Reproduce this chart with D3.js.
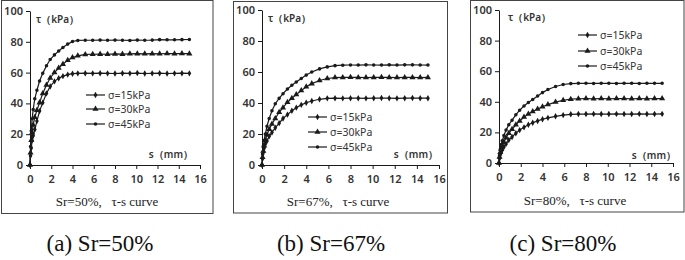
<!DOCTYPE html>
<html><head><meta charset="utf-8">
<script src="https://cdn.jsdelivr.net/npm/d3@7/dist/d3.min.js"></script>
<style>
body{margin:0;background:#fff;}
svg{display:block;}
</style></head>
<body>
<svg id="c" width="685" height="260"></svg>
<script>
// ---------- data ----------
const s = [0,0.05,0.12,0.2,0.3,0.45,0.65,0.9,1.2,1.55,1.9,2.3,2.7,3.1,3.55,4.0,4.5,5.2,5.9,6.6,7.3,8.0,8.7,9.4,10.1,10.8,11.5,12.2,12.9,13.6,14.3,15.0];
const seriesNames = ["σ=15kPa","σ=30kPa","σ=45kPa"];
const xTicks = [0,2,4,6,8,10,12,14,16];
const yTicks = [0,20,40,60,80,100];
const captions = ["Sr=50%,   τ-s curve","Sr=67%,   τ-s curve","Sr=80%,   τ-s curve"];
const subCaptions = ["(a) Sr=50%","(b) Sr=67%","(c) Sr=80%"];

const tauA15 = [0,6,11,16,19,23,28.5,35,40.5,46.5,51,54.3,56.3,57.7,58.7,59.3,59.5,59.6,59.5,59.6,59.5,59.4,59.6,59.5,59.7,59.4,59.5,59.6,59.4,59.5,59.6,59.5];
const tauA30 = [0,8,16,21,26,31,35.5,40.5,46.5,52,56.5,60,63,65.5,68,69.8,70.9,71.8,71.9,72.0,71.9,72.1,72.0,72.2,72.3,72.2,72.3,72.2,72.4,72.3,72.4,72.3];
const tauA45 = [0,12,22,30,36,43,48.5,54.5,59.5,64.5,68.5,71.5,74,76.3,78.5,80.2,80.9,81.0,81.0,81.1,81.0,81.1,81.0,80.9,81.1,81.0,81.1,81.4,81.3,81.3,81.4,81.5];

const tauB15 = [0,4,8,11,13.5,15.5,18.5,21,24,27,30,32.5,35,37,38.8,40.2,41.3,42.4,43.0,43.1,43.0,43.1,43.1,43.0,43.1,43.2,43.1,43.0,43.1,43.2,43.1,43.1];
const tauB30 = [0,5,9,12.5,16,19.5,23,26.5,30,34,37,40.5,43,45.5,48,50.5,52.5,54.5,55.8,56.4,56.5,56.6,56.5,56.4,56.5,56.6,56.5,56.4,56.5,56.5,56.4,56.5];
const tauB45 = [0,7,12,16,20,25,30,35,39.5,43,46,49,51.5,53.5,55.8,58,60,62,63.3,64.1,64.4,64.5,64.5,64.6,64.5,64.5,64.6,64.5,64.6,64.6,64.5,64.5];

const tauC15 = [0,3,5.5,7,8.5,10.5,12.5,15,17,19.5,21.5,23.3,25,26.3,27.5,28.6,29.5,30.5,31.3,31.8,32.0,32.0,32.1,32.0,32.0,32.1,32.0,32.0,32.1,32.0,32.0,32.1];
const tauC30 = [0,4,7,9,11,13.5,16.5,19.5,22,25,27.5,30,32,33.7,35.3,36.8,38.2,39.8,41.0,41.7,42.0,42.1,42.0,42.1,42.0,42.1,42.1,42.0,42.1,42.0,42.1,42.1];
const tauC45 = [0,5,9,12,14.5,18,21.5,25,28,31.5,34.5,37.3,39.5,41.5,43.8,46,48,50,51.3,51.9,52.1,52.1,52.0,52.1,52.1,52.0,52.1,52.1,52.0,52.1,52.1,52.1];

const panelSeries = [[tauA15,tauA30,tauA45],[tauB15,tauB30,tauB45],[tauC15,tauC30,tauC45]];

// ---------- layout ----------
const layout = [
  {fx:1.5, fy:0.5, fw:211.5, fh:213, x0:30, x1:200, y0:165, y1:11, lx:86, ly:[95,109,124], tx:36, ty:19, sx:193, sy:154, cx:107, cy:201, bx:100},
  {fx:233.5, fy:1.5, fw:214, fh:211.5, x0:262, x1:439, y0:165, y1:10, lx:308, ly:[117,132,147], tx:268, ty:18, sx:438, sy:154, cx:338, cy:201, bx:331},
  {fx:470.5, fy:0.5, fw:213.5, fh:211.5, x0:499, x1:673, y0:163, y1:10, lx:578, ly:[35,51,66], tx:508, ty:17, sx:676, sy:155, cx:575, cy:200, bx:563}
];

const svg = d3.select("#c");
const ink = "#1a1a1a";
const sans = "'Noto Sans', 'DejaVu Sans', sans-serif";
const serif = "'Liberation Serif', 'DejaVu Serif', serif";

const symbols = [
  d3.symbol().type(d3.symbolDiamond).size(12),
  d3.symbol().type(d3.symbolTriangle).size(16),
  d3.symbol().type(d3.symbolCircle).size(10)
];

layout.forEach((L, p) => {
  const g = svg.append("g");
  g.append("rect").attr("x", L.fx).attr("y", L.fy).attr("width", L.fw).attr("height", L.fh)
    .attr("fill", "none").attr("stroke", "#444").attr("stroke-width", 1);

  const x = d3.scaleLinear().domain([0,16]).range([L.x0, L.x1]);
  const y = d3.scaleLinear().domain([0,100]).range([L.y0, L.y1]);

  const xa = g.append("g").attr("transform", `translate(0,${L.y0})`)
    .call(d3.axisBottom(x).tickValues(xTicks).tickSize(4).tickSizeOuter(0).tickPadding(6));
  const ya = g.append("g").attr("transform", `translate(${L.x0},0)`)
    .call(d3.axisLeft(y).tickValues(yTicks).tickSize(4).tickSizeOuter(0).tickPadding(3));
  [xa, ya].forEach(a => {
    a.select(".domain").attr("stroke", ink).attr("stroke-width", 1);
    a.selectAll(".tick line").attr("stroke", ink);
    a.selectAll(".tick text").attr("fill", "#333").style("font-family", sans).style("font-size", "11px").style("font-weight", "600");
  });

  const line = d3.line().x((d,i) => x(s[i])).y(d => y(d));
  panelSeries[p].forEach((vals, k) => {
    g.append("path").datum(vals).attr("d", line).attr("fill", "none").attr("stroke", ink).attr("stroke-width", 1.2);
    g.selectAll(null).data(vals).enter().append("path")
      .attr("d", symbols[k]()).attr("fill", ink)
      .attr("transform", (d,i) => `translate(${x(s[i])},${y(d)})`);
  });

  // legend
  seriesNames.forEach((nm, k) => {
    const yy = L.ly[k];
    g.append("line").attr("x1", L.lx).attr("x2", L.lx + 19).attr("y1", yy).attr("y2", yy)
      .attr("stroke", ink).attr("stroke-width", 1.2);
    g.append("path").attr("d", symbols[k]()).attr("fill", ink)
      .attr("transform", `translate(${L.lx + 9.5},${yy})`);
    g.append("text").attr("x", L.lx + 22).attr("y", yy).attr("dy", "0.35em")
      .attr("fill", "#333").style("font-family", sans).style("font-size", "10.5px").text(nm);
  });

  g.append("text").attr("x", L.tx).attr("y", L.ty).attr("dy", "0.35em")
    .attr("fill", "#333").style("font-family", sans).style("font-size", "10px").style("font-weight", "600").text("τ（kPa）");
  g.append("text").attr("x", L.sx).attr("y", L.sy).attr("dy", "0.35em").attr("text-anchor", "end")
    .attr("fill", "#333").style("font-family", sans).style("font-size", "10px").style("font-weight", "600").text("s（mm）");

  g.append("text").attr("x", L.cx).attr("y", L.cy).attr("dy", "0.35em").attr("text-anchor", "middle")
    .style("white-space", "pre").attr("xml:space", "preserve")
    .attr("fill", "#222").style("font-family", serif).style("font-size", "13px").text(captions[p]);

  svg.append("text").attr("x", L.bx).attr("y", 251).attr("text-anchor", "middle")
    .attr("fill", "#111").style("font-family", serif).style("font-size", "23px").text(subCaptions[p]);
});
</script>
</body></html>
